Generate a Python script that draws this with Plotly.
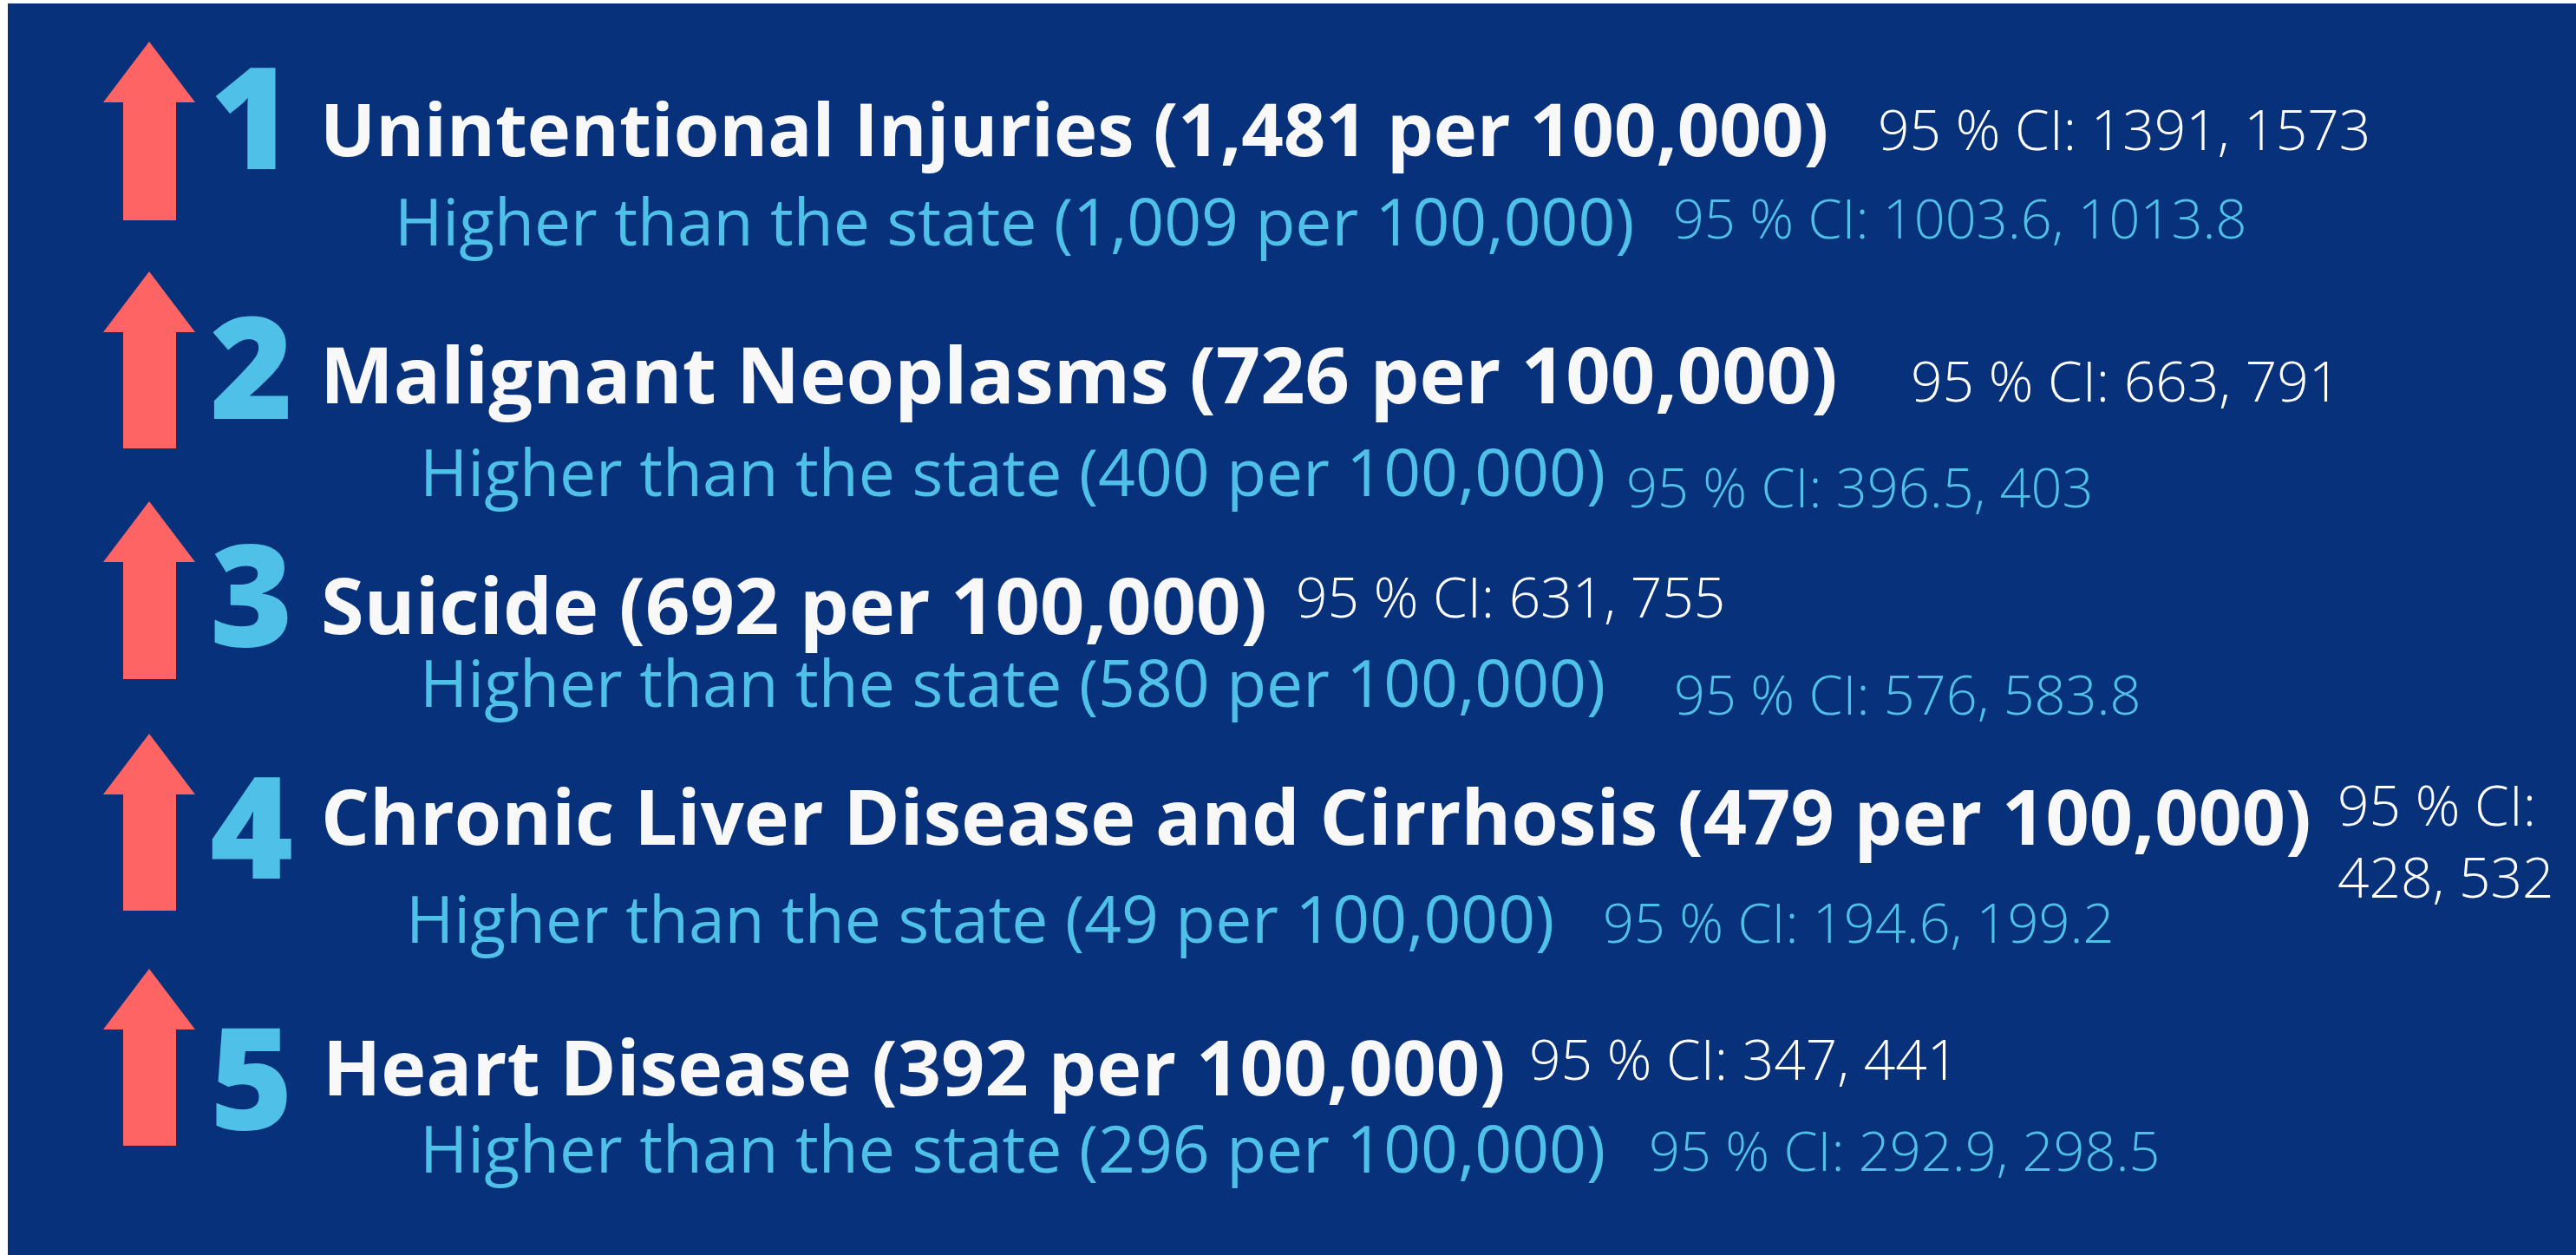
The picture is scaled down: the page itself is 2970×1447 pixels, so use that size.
import plotly.graph_objects as go

# ---------------- data ----------------
ranks = ["1", "2", "3", "4", "5"]
causes = ["Unintentional Injuries", "Malignant Neoplasms", "Suicide",
          "Chronic Liver Disease and Cirrhosis", "Heart Disease"]
rates = ["1,481", "726", "692", "479", "392"]
ci_low = ["1391", "663", "631", "428", "347"]
ci_high = ["1573", "791", "755", "532", "441"]
state_rates = ["1,009", "400", "580", "49", "296"]
state_ci_low = ["1003.6", "396.5", "576", "194.6", "292.9"]
state_ci_high = ["1013.8", "403", "583.8", "199.2", "298.5"]

# ---------------- layout (pixel positions) ----------------
W, H = 2970, 1447
BG = "#07317B"
ARROW = "#FF6464"
LIGHTBLUE = "#4FC1E9"
WHITE = "#F8F8F8"

arrow_tip = [48, 313, 578, 846, 1117]
arrow_bot = [254, 517, 783, 1050, 1321]
num_top = [73, 361, 623, 891, 1180]
title_base = [180, 465, 731, 974, 1263]
title_x = [367, 367, 368, 368, 370]
title_size = [85, 90, 90, 88, 88]
ci_x = [2163, 2201, 1492, 2693, 1761]
ci_base = [173, 463, 712, 951, 1245]
sub_x = [453, 482, 482, 466, 482]
sub_base = [283, 572, 815, 1087, 1352]
sci_x = [1927, 1873, 1928, 1846, 1899]
sci_base = [275, 585, 824, 1087, 1350]

TITLE_FONT = "Open Sans"
ASC = 0.388  # (ascent - descent)/2 for Open Sans


def yc(base, size, lines=1, gap=None):
    if gap is None:
        gap = 1.3 * size
    return base + (lines - 1) * gap / 2 - ASC * size


fig = go.Figure()

# arrows
for i in range(5):
    tip, bot = arrow_tip[i], arrow_bot[i]
    head = tip + 70
    cx = 172
    xs = [cx, cx + 53, cx + 31, cx + 31, cx - 30, cx - 30, cx - 53, cx]
    ys = [tip, head, head, bot, bot, head, head, tip]
    fig.add_trace(go.Scatter(x=xs, y=ys, fill="toself", fillcolor=ARROW,
                             mode="lines", line=dict(width=0, color=ARROW),
                             hoverinfo="skip", showlegend=False))

annotations = []
for i in range(5):
    # rank numeral
    annotations.append(dict(
        x=290, y=num_top[i] + 58, xref="x", yref="y",
        text=ranks[i], showarrow=False, xanchor="center", yanchor="middle",
        font=dict(family=TITLE_FONT, size=164, color=LIGHTBLUE, weight=800)))
    # title
    annotations.append(dict(
        x=title_x[i], y=yc(title_base[i], title_size[i]), xref="x", yref="y",
        text=f"{causes[i]} ({rates[i]} per 100,000)", showarrow=False,
        xanchor="left", yanchor="middle",
        font=dict(family=TITLE_FONT, size=title_size[i], color=WHITE, weight=700)))
    # county CI
    if i == 3:
        ci_text = f"95 % CI:<br>{ci_low[i]}, {ci_high[i]}"
        y = yc(ci_base[i], 64, lines=2, gap=85)
    else:
        ci_text = f"95 % CI: {ci_low[i]}, {ci_high[i]}"
        y = yc(ci_base[i], 64)
    annotations.append(dict(
        x=ci_x[i], y=y, xref="x", yref="y", text=ci_text, showarrow=False,
        xanchor="left", yanchor="middle", align="left",
        font=dict(family="Open Sans", size=64, color="#FFFFFF", weight=300)))
    # state comparison
    annotations.append(dict(
        x=sub_x[i], y=yc(sub_base[i], 75), xref="x", yref="y",
        text=f"Higher than the state ({state_rates[i]} per 100,000)",
        showarrow=False, xanchor="left", yanchor="middle",
        font=dict(family="Open Sans", size=75, color=LIGHTBLUE, weight=400)))
    # state CI
    annotations.append(dict(
        x=sci_x[i], y=yc(sci_base[i], 63), xref="x", yref="y",
        text=f"95 % CI: {state_ci_low[i]}, {state_ci_high[i]}",
        showarrow=False, xanchor="left", yanchor="middle",
        font=dict(family="Open Sans", size=63, color=LIGHTBLUE, weight=300)))

fig.update_layout(
    width=W, height=H,
    margin=dict(l=0, r=0, t=0, b=0, pad=0),
    paper_bgcolor="#FFFFFF", plot_bgcolor="#FFFFFF",
    xaxis=dict(range=[0, W], visible=False, fixedrange=True),
    yaxis=dict(range=[H, 0], visible=False, fixedrange=True),
    shapes=[dict(type="rect", xref="x", yref="y", x0=9, y0=4, x1=W, y1=H,
                 fillcolor=BG, line=dict(width=0), layer="below")],
    annotations=annotations,
    showlegend=False,
)

fig.write_html("out.html", config={"displayModeBar": False},
               post_script="document.body.style.margin='0';")
